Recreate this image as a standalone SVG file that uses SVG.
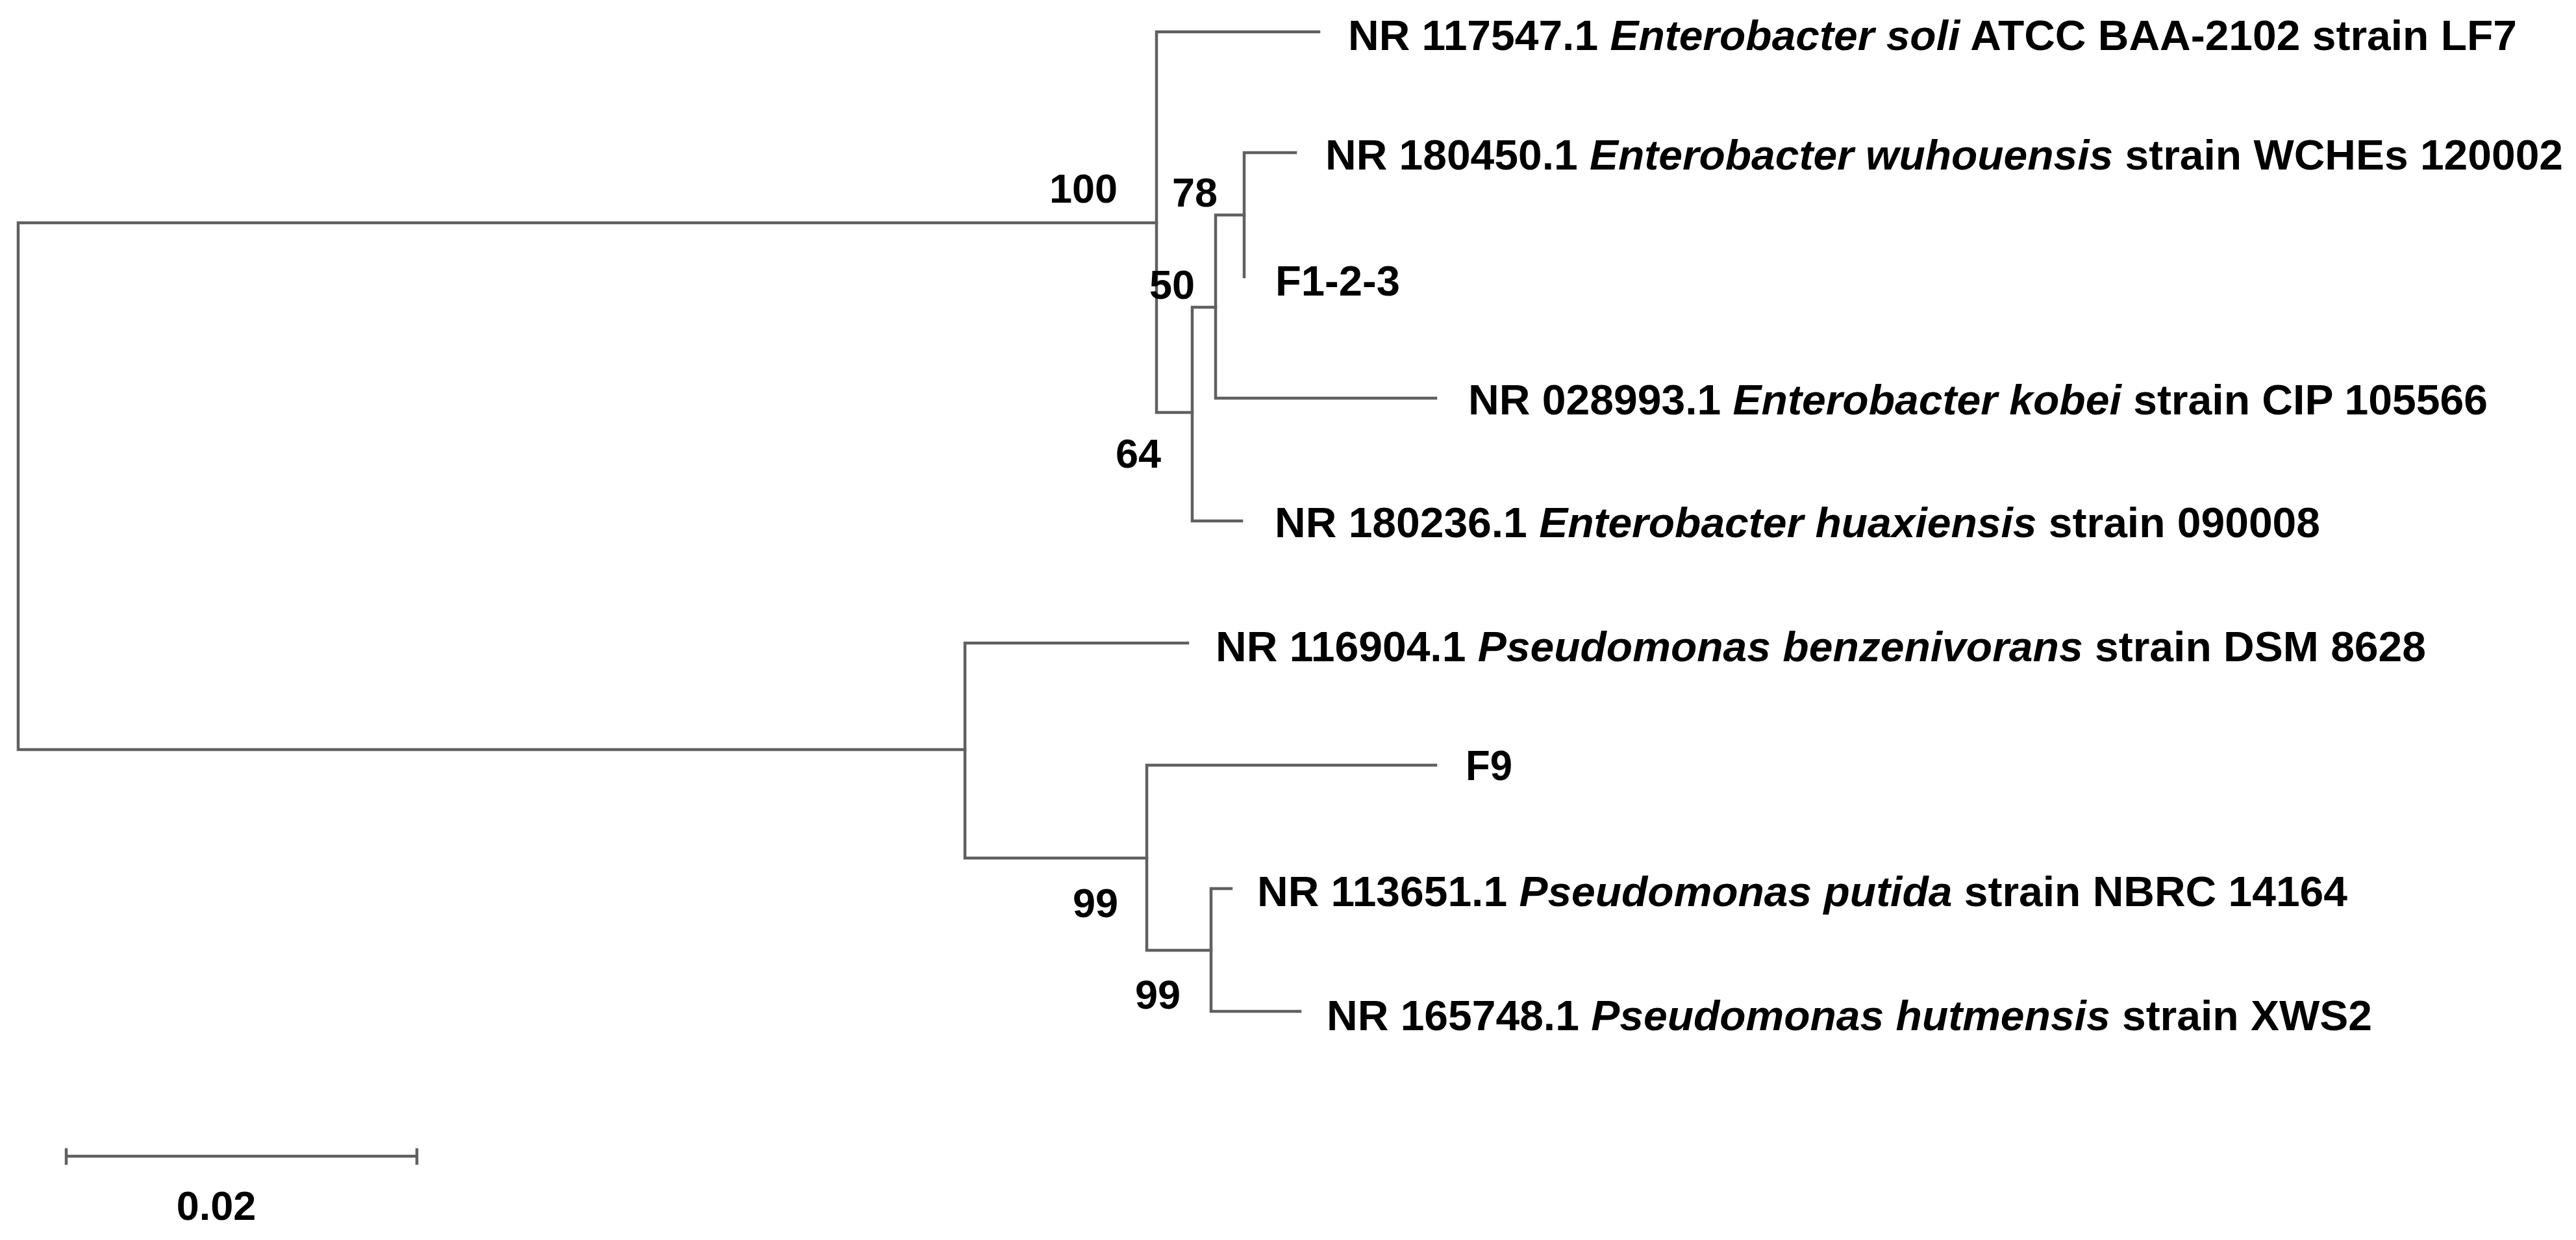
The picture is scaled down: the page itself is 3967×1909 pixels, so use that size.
<svg xmlns="http://www.w3.org/2000/svg" width="3967" height="1909" viewBox="0 0 3967 1909">
<style>
.br{fill:none;stroke:#606060;stroke-width:4.5;stroke-linecap:square}
.lbl{font-family:"Liberation Sans",Arial,sans-serif;font-weight:bold;font-size:64px;fill:#000}
.bs{font-family:"Liberation Sans",Arial,sans-serif;font-weight:bold;font-size:63px;fill:#000}
.it{font-style:italic}
</style>
<rect width="3967" height="1909" fill="#fff"/>
<g id="connectors">
<path class="br" d="M1781,343 H28 V1154 H1486"/>
<path class="br" d="M2031,49 H1781 V635 H1836"/>
<path class="br" d="M1872,473 H1836 V802 H1912"/>
<path class="br" d="M1916,331 H1872 V613 H2211"/>
<path class="br" d="M1995,235 H1916 V426"/>
<path class="br" d="M1829,990 H1486 V1321 H1766"/>
<path class="br" d="M2211,1178 H1766 V1463 H1865"/>
<path class="br" d="M1896,1368 H1865 V1557 H2002"/>
</g>
<g id="leaf-soli"><text class="lbl" x="2076" y="77" textLength="1800" lengthAdjust="spacingAndGlyphs">NR 117547.1 <tspan class="it">Enterobacter soli</tspan> ATCC BAA-2102 strain LF7</text></g>
<g id="leaf-wuhouensis"><text class="lbl" x="2041" y="261" textLength="1906" lengthAdjust="spacingAndGlyphs">NR 180450.1 <tspan class="it">Enterobacter wuhouensis</tspan> strain WCHEs 120002</text></g>
<g id="leaf-F1-2-3"><text class="lbl" x="1964" y="455" textLength="192" lengthAdjust="spacingAndGlyphs">F1-2-3</text></g>
<g id="leaf-kobei"><text class="lbl" x="2261" y="638" textLength="1570" lengthAdjust="spacingAndGlyphs">NR 028993.1 <tspan class="it">Enterobacter kobei</tspan> strain CIP 105566</text></g>
<g id="leaf-huaxiensis"><text class="lbl" x="1963" y="827" textLength="1610" lengthAdjust="spacingAndGlyphs">NR 180236.1 <tspan class="it">Enterobacter huaxiensis</tspan> strain 090008</text></g>
<g id="leaf-benzenivorans"><text class="lbl" x="1872" y="1018" textLength="1864" lengthAdjust="spacingAndGlyphs">NR 116904.1 <tspan class="it">Pseudomonas benzenivorans</tspan> strain DSM 8628</text></g>
<g id="leaf-F9"><text class="lbl" x="2257" y="1201" textLength="72" lengthAdjust="spacingAndGlyphs">F9</text></g>
<g id="leaf-putida"><text class="lbl" x="1936" y="1395" textLength="1679" lengthAdjust="spacingAndGlyphs">NR 113651.1 <tspan class="it">Pseudomonas putida</tspan> strain NBRC 14164</text></g>
<g id="leaf-hutmensis"><text class="lbl" x="2043" y="1586" textLength="1610" lengthAdjust="spacingAndGlyphs">NR 165748.1 <tspan class="it">Pseudomonas hutmensis</tspan> strain XWS2</text></g>
<g id="bootstrap-100"><text class="bs" x="1721" y="312" text-anchor="end">100</text></g>
<g id="bootstrap-78"><text class="bs" x="1875" y="318" text-anchor="end">78</text></g>
<g id="bootstrap-50"><text class="bs" x="1840" y="460" text-anchor="end">50</text></g>
<g id="bootstrap-64"><text class="bs" x="1788" y="720" text-anchor="end">64</text></g>
<g id="bootstrap-99a"><text class="bs" x="1722" y="1412" text-anchor="end">99</text></g>
<g id="bootstrap-99b"><text class="bs" x="1818" y="1553" text-anchor="end">99</text></g>
<g id="scale-bar">
<path class="br" d="M102,1780 H642 M102,1770 V1791 M642,1770 V1791"/>
<text class="bs" x="333" y="1878" text-anchor="middle">0.02</text>
</g>
</svg>
